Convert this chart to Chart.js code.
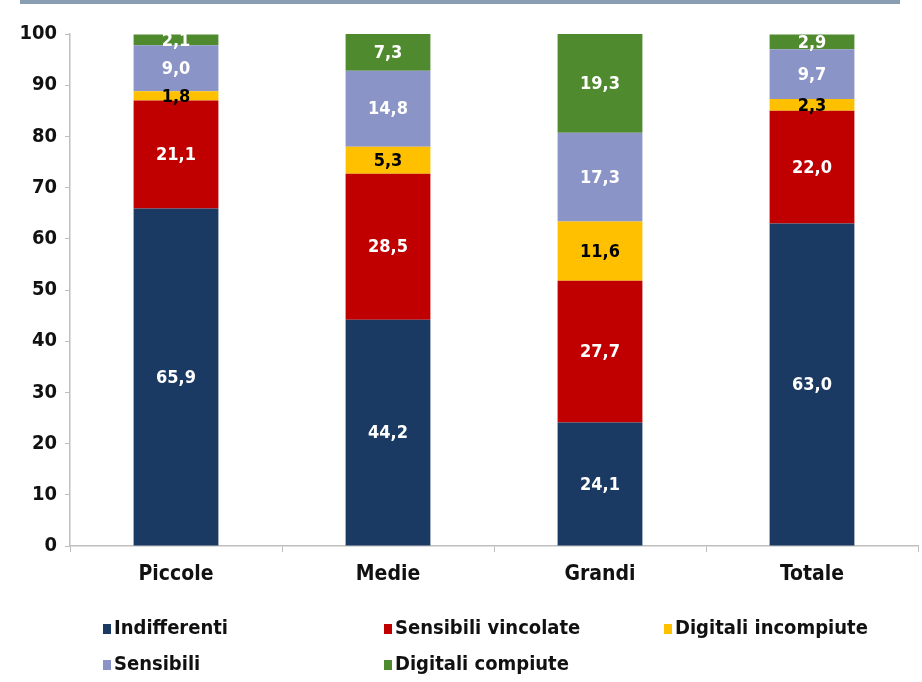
<!DOCTYPE html>
<html>
<head>
<meta charset="utf-8">
<script src="https://cdn.jsdelivr.net/npm/chart.js@4"></script>
<style>
  body { margin:0; background:#fff; }
  #wrap { position:relative; width:922px; height:682px; }
  #topline { position:absolute; left:20px; top:0; width:880px; height:4px; background:#8a9eb1; }
  #legend { position:absolute; left:0; top:0; width:922px; height:682px; pointer-events:none;
            font-family:"DejaVu Sans Condensed","Liberation Sans",Arial,sans-serif;
            font-weight:bold; font-size:20px; color:#111; }
  .lg { position:absolute; white-space:nowrap; line-height:20px; }
  .lg i { display:inline-block; width:8px; height:10px; margin-right:3px; vertical-align:0px; }
</style>
</head>
<body>
<div id="wrap">
  <canvas id="c" width="922" height="682"></canvas>
  <div id="topline"></div>
  <div id="legend"></div>
</div>
<script>
const FONT = "'DejaVu Sans Condensed','Liberation Sans',Arial,sans-serif";

const categories = ["Piccole", "Medie", "Grandi", "Totale"];
const seriesNames = ["Indifferenti", "Sensibili vincolate", "Digitali incompiute", "Sensibili", "Digitali compiute"];
const indifferenti = [65.9, 44.2, 24.1, 63.0];
const sensibiliVincolate = [21.1, 28.5, 27.7, 22.0];
const digitaliIncompiute = [1.8, 5.3, 11.6, 2.3];
const sensibili = [9.0, 14.8, 17.3, 9.7];
const digitaliCompiute = [2.1, 7.3, 19.3, 2.9];
const yTicks = [0, 10, 20, 30, 40, 50, 60, 70, 80, 90, 100];

const colors = ["#1b3a63", "#c00000", "#ffc000", "#8b94c6", "#4f8a2e"];
const labelColors = ["#ffffff", "#ffffff", "#000000", "#ffffff", "#ffffff"];
const allValues = [indifferenti, sensibiliVincolate, digitaliIncompiute, sensibili, digitaliCompiute];

// posizioni legenda (due righe, tre colonne come l'originale)
const legendSlots = [[103, 617], [384, 617], [664, 617], [103, 653], [384, 653]];

const datasets = seriesNames.map((name, i) => ({
  label: name,
  data: allValues[i],
  backgroundColor: colors[i],
  borderWidth: 0,
  barPercentage: 0.4,
  categoryPercentage: 1.0
}));

/* etichette dentro le barre */
const barLabels = {
  id: "barLabels",
  afterDatasetsDraw(chart){
    const ctx = chart.ctx;
    ctx.save();
    ctx.font = "bold 18px " + FONT;
    ctx.textAlign = "center";
    ctx.textBaseline = "middle";
    chart.data.datasets.forEach((ds, i) => {
      chart.getDatasetMeta(i).data.forEach((bar, j) => {
        const y = (bar.y + bar.base) / 2;
        ctx.fillStyle = labelColors[i];
        ctx.fillText(ds.data[j].toFixed(1).replace(".", ","), bar.x, y + 1);
      });
    });
    ctx.restore();
  }
};

new Chart(document.getElementById("c"), {
  type: "bar",
  data: { labels: categories, datasets: datasets },
  plugins: [barLabels],
  options: {
    responsive: false,
    animation: false,
    layout: { padding: { left: 0, right: 4, top: 34, bottom: 90 } },
    plugins: { legend: { display: false }, tooltip: { enabled: false } },
    scales: {
      x: {
        stacked: true,
        offset: true,
        afterFit: s => { s.height = 46; },
        grid: { offset: true, drawOnChartArea: false, drawTicks: true, tickLength: 6, color: "#bfbfbf" },
        border: { color: "#bfbfbf", width: 1.5 },
        ticks: { color: "#111", padding: 10, font: { family: FONT, size: 21, weight: "bold" } }
      },
      y: {
        stacked: true,
        min: 0,
        max: 100,
        afterFit: s => { s.width = 70; },
        afterBuildTicks: s => { s.ticks = yTicks.map(v => ({ value: v })); },
        grid: { drawOnChartArea: false, drawTicks: true, tickLength: 5, color: "#bfbfbf" },
        border: { color: "#bfbfbf", width: 1.5 },
        ticks: { color: "#111", padding: 8, font: { family: FONT, size: 20, weight: "bold" } }
      }
    }
  }
});

/* legenda html */
const lg = document.getElementById("legend");
seriesNames.forEach((name, i) => {
  const d = document.createElement("div");
  d.className = "lg";
  d.style.left = legendSlots[i][0] + "px";
  d.style.top = legendSlots[i][1] + "px";
  d.innerHTML = `<i style="background:${colors[i]}"></i>${name}`;
  lg.appendChild(d);
});
</script>
</body>
</html>
